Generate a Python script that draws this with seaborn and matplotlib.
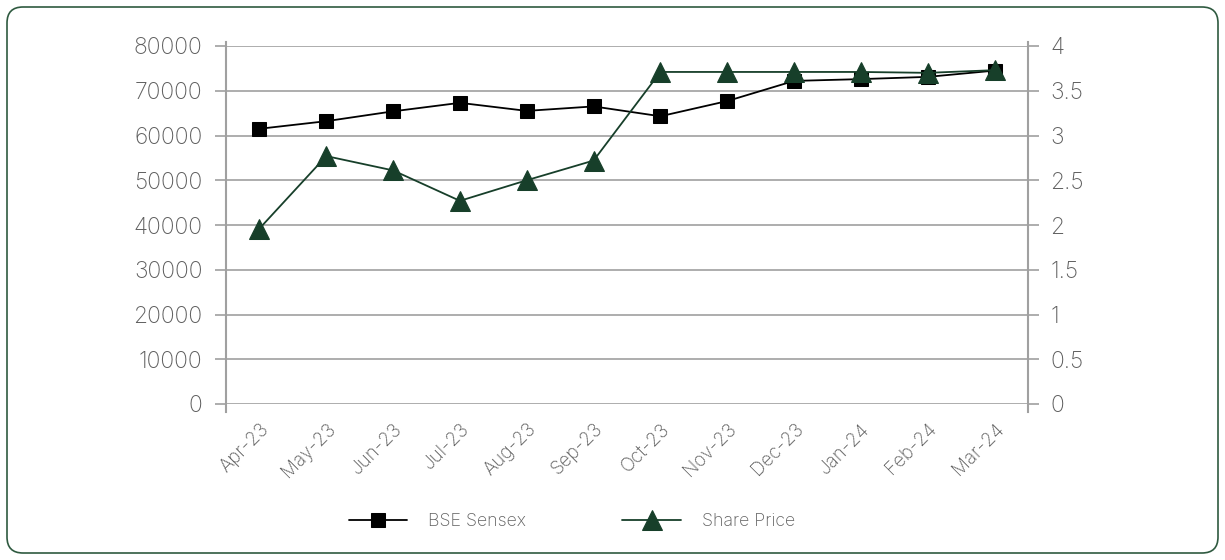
import numpy as np
import matplotlib
matplotlib.use("Agg")
import matplotlib.pyplot as plt
import seaborn as sns
from matplotlib.patches import FancyBboxPatch

months = ["Apr-23", "May-23", "Jun-23", "Jul-23", "Aug-23", "Sep-23",
          "Oct-23", "Nov-23", "Dec-23", "Jan-24", "Feb-24", "Mar-24"]
sensex = [61500, 63200, 65400, 67300, 65500, 66500,
          64300, 67700, 72200, 72600, 73100, 74500]
share_price = [1.96, 2.77, 2.61, 2.27, 2.50, 2.72,
               3.71, 3.71, 3.71, 3.71, 3.70, 3.73]

sns.set_style("white")
plt.rcParams["font.family"] = ["Inter", "DejaVu Sans"]
plt.rcParams["font.weight"] = "light"
txt = "#5f5f5f"
grid = "#a0a0a0"
green = "#173f2a"

fig = plt.figure(figsize=(12.25, 5.6), dpi=100)
fig.patches.append(FancyBboxPatch((7, 7), 1211, 546,
                                  boxstyle="round,pad=0,rounding_size=16",
                                  transform=None, fill=False,
                                  edgecolor="#2f5a40", linewidth=1.2))

ax = fig.add_axes([226 / 1225, 1 - 404 / 560, 802 / 1225, 358 / 560])
ax2 = ax.twinx()
x = np.arange(len(months))

sns.lineplot(x=x, y=sensex, ax=ax, color="black", marker="s", markersize=10,
             linewidth=1.3, markeredgecolor="black", label="BSE Sensex", legend=False)
sns.lineplot(x=x, y=share_price, ax=ax2, color=green, marker="^", markersize=14,
             linewidth=1.3, markeredgecolor=green, label="Share Price", legend=False)

ax.set_xlim(-0.5, len(months) - 0.5)
ax.set_ylim(0, 80000)
ax2.set_ylim(0, 4)
ax.set_yticks(range(0, 80001, 10000))
ax2.set_yticks([0, 0.5, 1, 1.5, 2, 2.5, 3, 3.5, 4])
ax2.set_yticklabels(["0", "0.5", "1", "1.5", "2", "2.5", "3", "3.5", "4"])
ax.set_xticks(x)
ax.set_xticklabels(months, rotation=45, ha="right", rotation_mode="anchor")

ax.yaxis.grid(True, color=grid, linewidth=1.2)
ax.set_axisbelow(True)
for a in (ax, ax2):
    for s in a.spines.values():
        s.set_visible(False)
ax.spines["left"].set_visible(True)
ax.spines["left"].set_color(grid)
ax.spines["left"].set_linewidth(1.5)
ax.spines["left"].set_bounds(-1800, 80900)
ax2.spines["right"].set_visible(True)
ax2.spines["right"].set_color(grid)
ax2.spines["right"].set_linewidth(1.5)
ax2.spines["right"].set_bounds(-0.09, 4.045)

ax.tick_params(axis="y", left=True, length=8, width=1.2, color=grid,
               labelsize=16.5, labelcolor=txt, pad=9)
ax2.tick_params(axis="y", right=True, length=8, width=1.2, color=grid,
                labelsize=16.5, labelcolor=txt, pad=8)
ax.tick_params(axis="x", bottom=False, labelsize=13.5, labelcolor=txt, pad=8)
ax.set_xlabel("")
ax.set_ylabel("")
ax2.set_ylabel("")

h1, l1 = ax.get_legend_handles_labels()
h2, l2 = ax2.get_legend_handles_labels()
leg = fig.legend(h1 + h2, l1 + l2, loc="center", bbox_to_anchor=(572 / 1225, 1 - 522 / 560),
                 ncol=2, frameon=False, handlelength=3.3, columnspacing=5.4,
                 handletextpad=1.2, fontsize=12.8)
for t in leg.get_texts():
    t.set_color(txt)

fig.savefig("out.png", dpi=100)
